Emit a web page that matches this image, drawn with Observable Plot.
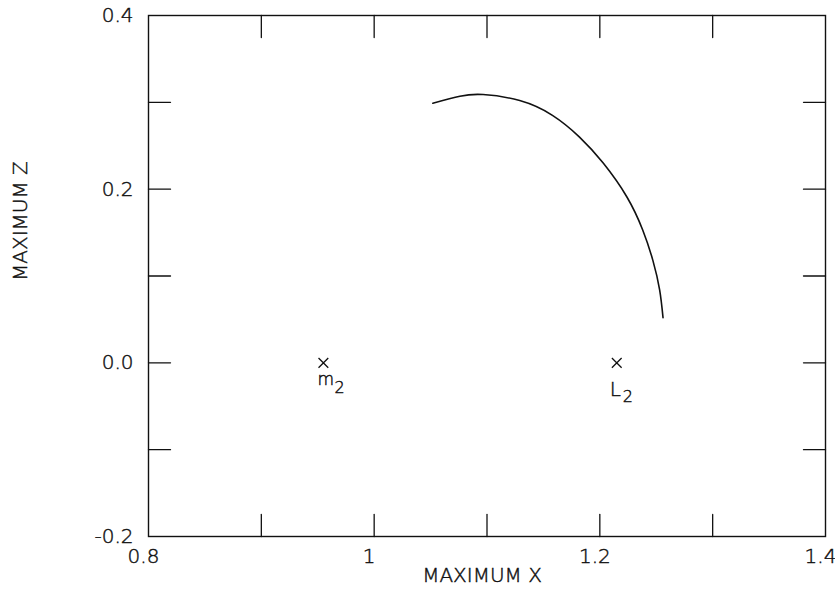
<!DOCTYPE html>
<html>
<head>
<meta charset="utf-8">
<script src="https://cdn.jsdelivr.net/npm/d3@7"></script>
<script src="https://cdn.jsdelivr.net/npm/@observablehq/plot@0.6"></script>
<style>
  html, body { margin: 0; padding: 0; background: #fff; }
  svg text { font-weight: 200; stroke: #111; stroke-width: 0.45px; }
</style>
</head>
<body>
<div id="chart"></div>
<script>
// Curve: maximum x vs maximum z
const curveX = [1.052, 1.076, 1.0965, 1.129, 1.158, 1.182, 1.203, 1.224, 1.238, 1.247, 1.253, 1.256];
const curveZ = [0.299, 0.307, 0.309, 0.302, 0.285, 0.260, 0.230, 0.191, 0.153, 0.118, 0.084, 0.052];

// Marked points
const pointNames = ["m", "L"];
const pointSubs = ["2", "2"];
const pointX = [0.955, 1.215];
const pointZ = [0.0, 0.0];

// Ticks
const xMinorTicks = [0.9, 1.0, 1.1, 1.2, 1.3];
const yMinorTicks = [-0.1, 0.0, 0.1, 0.2, 0.3];
const xLabelTicks = [0.8, 1.0, 1.2, 1.4];
const yLabelTicks = [-0.2, 0.0, 0.2, 0.4];
const xTitle = "MAXIMUM X";
const yTitle = "MAXIMUM Z";

const curve = curveX.map((x, i) => ({x, z: curveZ[i]}));
const points = pointNames.map((name, i) => ({name, sub: pointSubs[i], x: pointX[i], z: pointZ[i]}));

const tickShape = {draw(context, l) { context.moveTo(0, 0); context.lineTo(0, -l); }};
const ink = "#111";
const tickLen = 22;

const chart = Plot.plot({
  width: 835,
  height: 596,
  marginLeft: 148,
  marginRight: 10,
  marginTop: 15,
  marginBottom: 60,
  style: {fontFamily: "'DejaVu Sans', sans-serif", fontSize: "20px", color: ink, background: "#fff"},
  x: {domain: [0.8, 1.4]},
  y: {domain: [-0.2, 0.4]},
  marks: [
    Plot.frame({stroke: ink, strokeWidth: 1.4}),
    Plot.vector(xMinorTicks, {x: d => d, frameAnchor: "bottom", anchor: "start", rotate: 0, length: tickLen, shape: tickShape, stroke: ink, strokeWidth: 1.3}),
    Plot.vector(xMinorTicks, {x: d => d, frameAnchor: "top", anchor: "start", rotate: 180, length: tickLen, shape: tickShape, stroke: ink, strokeWidth: 1.3}),
    Plot.vector(yMinorTicks, {y: d => d, frameAnchor: "left", anchor: "start", rotate: 90, length: tickLen, shape: tickShape, stroke: ink, strokeWidth: 1.3}),
    Plot.vector(yMinorTicks, {y: d => d, frameAnchor: "right", anchor: "start", rotate: -90, length: tickLen, shape: tickShape, stroke: ink, strokeWidth: 1.3}),
    Plot.axisX(xLabelTicks, {anchor: "bottom", tickSize: 0, tickPadding: 12, dx: -5, tickFormat: d => d3.format("")(+d.toFixed(1)), fontSize: 20, fill: ink, label: null}),
    Plot.axisY(yLabelTicks, {anchor: "left", tickSize: 0, tickPadding: 15, tickFormat: d => d.toFixed(1), fontSize: 20, fill: ink, label: null}),
    Plot.text([xTitle], {text: d => d, frameAnchor: "bottom", dy: 45, dx: -5, fontSize: 20, fill: ink}),
    Plot.text([yTitle], {text: d => d, frameAnchor: "left", dx: -128, dy: 5, rotate: -90, fontSize: 20, fill: ink}),
    Plot.line(curve, {x: "x", y: "z", curve: "natural", stroke: ink, strokeWidth: 1.6}),
    Plot.dot(points, {x: "x", y: "z", symbol: "times", r: 4.5, stroke: ink, strokeWidth: 1.3}),
    Plot.text(points.slice(0, 1), {x: "x", y: "z", text: "name", textAnchor: "start", dx: -6, dy: 17, fontSize: 17, fill: ink}),
    Plot.text(points.slice(0, 1), {x: "x", y: "z", text: "sub", textAnchor: "start", dx: 11, dy: 25, fontSize: 16, fill: ink}),
    Plot.text(points.slice(1), {x: "x", y: "z", text: "name", textAnchor: "start", dx: -7, dy: 27, fontSize: 20, fill: ink}),
    Plot.text(points.slice(1), {x: "x", y: "z", text: "sub", textAnchor: "start", dx: 6, dy: 34, fontSize: 16, fill: ink})
  ]
});
document.getElementById("chart").appendChild(chart);
</script>
</body>
</html>
